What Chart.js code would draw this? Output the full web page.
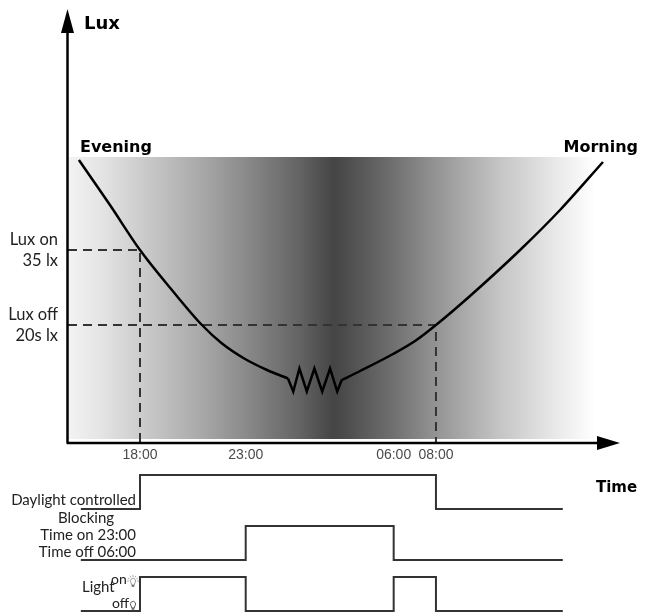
<!DOCTYPE html>
<html>
<head>
<meta charset="utf-8">
<script src="https://cdn.jsdelivr.net/npm/chart.js@4/dist/chart.umd.min.js"></script>
<style>
  html, body { margin: 0; padding: 0; background: #fff; }
  #wrap { position: relative; width: 654px; height: 614px; }
  #luxChart { position: absolute; left: 0; top: 0; }
  #signalChart { position: absolute; left: 0; top: 470px; }
</style>
</head>
<body>
<div id="wrap">
  <canvas id="luxChart" width="654" height="470"></canvas>
  <canvas id="signalChart" width="654" height="144"></canvas>
</div>
<script>
// Hours are counted on from the first evening, so 06:00 next morning = 30
const tickHours = [18, 23, 30, 32];
const tickLabels = ['18:00', '23:00', '06:00', '08:00'];

const luxOn = 35;
const luxOff = 20;
const onHour = 18;
const offHour = 32;

// daylight level (lx) through the night
const eveningHours = [15.11, 16.58, 18, 19.51, 20.93, 21.88, 22.97, 24.01, 25.0];
const eveningLux = [53, 44, 35, 27, 20, 16.3, 13.2, 11, 9.3];
const flickerHours = [25.0, 25.25, 25.54, 25.89, 26.25, 26.62, 26.99, 27.33, 27.54];
const flickerLux = [9.3, 6.7, 11.3, 6.7, 11.3, 6.7, 11.3, 6.7, 9];
const morningHours = [27.54, 28.41, 29.97, 31.01, 32, 33.61, 35.98, 37.87, 39.9];
const morningLux = [9, 10.8, 14.2, 16.8, 20, 25.8, 35, 43, 52.6];

// switching signals (0 = off, 1 = on)
const daylightHours = [15.2, 18, 32, 38];
const daylightState = [0, 1, 0, 0];
const blockingHours = [15.2, 23, 30, 38];
const blockingState = [0, 1, 0, 0];
const lightHours = [15.2, 18, 23, 30, 32, 38];
const lightState = [0, 1, 0, 1, 0, 0];

const X_MIN = 14.594;
const X_MAX = 40.706;
const Y_MIN = -3.6;
const Y_MAX = 83.2;

const futura = 'Lato, "Noto Sans", sans-serif';
const heavy = '"DejaVu Sans", sans-serif';
const pts = (xs, ys) => xs.map((x, i) => ({ x: x, y: ys[i] }));

function curve(data, smooth) {
  return {
    data: data,
    borderColor: '#000',
    borderWidth: 2.5,
    pointRadius: 0,
    cubicInterpolationMode: smooth ? 'monotone' : 'default',
    tension: 0,
    fill: false
  };
}

function guide(data) {
  return {
    data: data,
    borderColor: '#333',
    borderWidth: 2,
    borderDash: [9, 6],
    pointRadius: 0,
    tension: 0,
    fill: false
  };
}

// grey night band behind the curve plus the arrow axes and titles
const luxDecor = {
  id: 'luxDecor',
  beforeDatasetsDraw(chart) {
    const { ctx, chartArea: a } = chart;
    const g = ctx.createLinearGradient(a.left, 0, a.right, 0);
    g.addColorStop(0.00, '#f3f3f3');
    g.addColorStop(0.06, '#e4e4e4');
    g.addColorStop(0.13, '#cdcdcd');
    g.addColorStop(0.24, '#a9a9a9');
    g.addColorStop(0.32, '#8b8b8b');
    g.addColorStop(0.42, '#636363');
    g.addColorStop(0.48, '#454545');
    g.addColorStop(0.50, '#4b4b4b');
    g.addColorStop(0.59, '#707070');
    g.addColorStop(0.67, '#959595');
    g.addColorStop(0.78, '#c4c4c4');
    g.addColorStop(0.89, '#ebebeb');
    g.addColorStop(0.955, '#ffffff');
    g.addColorStop(1.00, '#ffffff');
    ctx.save();
    ctx.fillStyle = g;
    ctx.fillRect(a.left + 1, a.top + 148, a.right - a.left - 1, a.bottom - a.top - 152);
    ctx.restore();
  },
  afterDraw(chart) {
    const { ctx, chartArea: a } = chart;
    ctx.save();
    ctx.strokeStyle = '#000';
    ctx.fillStyle = '#000';
    ctx.lineWidth = 2.5;
    ctx.beginPath();
    ctx.moveTo(a.left - 0.5, a.bottom);
    ctx.lineTo(a.left - 0.5, a.top + 20);
    ctx.moveTo(a.left - 1.5, a.bottom);
    ctx.lineTo(a.right - 20, a.bottom);
    ctx.stroke();
    // arrow heads
    ctx.beginPath();
    ctx.moveTo(a.left - 0.5, a.top);
    ctx.lineTo(a.left - 7, a.top + 24);
    ctx.lineTo(a.left + 6, a.top + 24);
    ctx.closePath();
    ctx.fill();
    ctx.beginPath();
    ctx.moveTo(a.right, a.bottom);
    ctx.lineTo(a.right - 23, a.bottom - 7);
    ctx.lineTo(a.right - 23, a.bottom + 7);
    ctx.closePath();
    ctx.fill();

    ctx.textBaseline = 'alphabetic';
    ctx.textAlign = 'left';
    ctx.font = 'bold 18px ' + heavy;
    ctx.fillText('Lux', a.left + 16, 29);
    ctx.font = 'bold 16px ' + heavy;
    ctx.fillText('Evening', 80, 152);
    ctx.textAlign = 'right';
    ctx.fillText('Morning', 638, 152);
    ctx.restore();
  }
};

new Chart(document.getElementById('luxChart'), {
  type: 'line',
  data: {
    datasets: [
      curve(pts(eveningHours, eveningLux), true),
      curve(pts(flickerHours, flickerLux), false),
      curve(pts(morningHours, morningLux), true),
      guide([{ x: X_MIN, y: luxOn }, { x: onHour, y: luxOn }, { x: onHour, y: Y_MIN }]),
      guide([{ x: X_MIN, y: luxOff }, { x: offHour, y: luxOff }, { x: offHour, y: Y_MIN }])
    ]
  },
  options: {
    responsive: false,
    animation: false,
    layout: { padding: { left: 0, right: 34, top: 9, bottom: 0 } },
    plugins: { legend: { display: false }, tooltip: { enabled: false } },
    scales: {
      x: {
        type: 'linear',
        min: X_MIN,
        max: X_MAX,
        grid: { display: false, drawTicks: false },
        border: { display: false },
        afterBuildTicks: (scale) => { scale.ticks = tickHours.map(v => ({ value: v })); },
        afterFit: (scale) => {
          scale.height = 27;
          scale.paddingLeft = 0;
          scale.paddingRight = 0;
        },
        ticks: {
          autoSkip: false,
          maxRotation: 0,
          padding: 4,
          color: '#4a4a4a',
          font: { family: 'Liberation Sans, Arial, sans-serif', size: 14 },
          callback: (v) => tickLabels[tickHours.indexOf(v)]
        }
      },
      y: {
        min: Y_MIN,
        max: Y_MAX,
        grid: { display: false, drawTicks: false },
        border: { display: false },
        afterBuildTicks: (scale) => { scale.ticks = [luxOn, luxOff].map(v => ({ value: v })); },
        afterFit: (scale) => {
          scale.width = 68;
          scale.paddingTop = 0;
          scale.paddingBottom = 0;
        },
        ticks: {
          padding: 10,
          color: '#222',
          font: { family: futura, size: 16.5, lineHeight: 1.3 },
          callback: (v) => v === luxOn ? ['Lux on', luxOn + ' lx'] : ['Lux off', luxOff + 's lx']
        }
      }
    }
  },
  plugins: [luxDecor]
});

// stacked rows of the switching diagram: row base value in the y scale
const rows = [
  { hours: daylightHours, state: daylightState, base: 3 },
  { hours: blockingHours, state: blockingState, base: 1.5 },
  { hours: lightHours, state: lightState, base: 0 }
];

function bulb(ctx, cx, cy, lit) {
  ctx.save();
  ctx.lineWidth = 1;
  ctx.strokeStyle = lit ? '#999' : '#555';
  ctx.beginPath();
  ctx.arc(cx, cy, 2.6, Math.PI * 0.8, Math.PI * 2.2);
  ctx.lineTo(cx + 1.2, cy + 4);
  ctx.lineTo(cx - 1.2, cy + 4);
  ctx.closePath();
  ctx.stroke();
  ctx.fillStyle = '#666';
  ctx.fillRect(cx - 1.3, cy + 4, 2.6, 1.8);
  if (lit) {
    ctx.strokeStyle = '#aaa';
    for (let k = 0; k < 7; k++) {
      const ang = Math.PI * (1 + k / 6);
      ctx.beginPath();
      ctx.moveTo(cx + Math.cos(ang) * 4, cy + Math.sin(ang) * 4);
      ctx.lineTo(cx + Math.cos(ang) * 6, cy + Math.sin(ang) * 6);
      ctx.stroke();
    }
  }
  ctx.restore();
}

const signalText = {
  id: 'signalText',
  afterDraw(chart) {
    const { ctx } = chart;
    const y = chart.scales.y;
    ctx.save();
    ctx.fillStyle = '#222';
    ctx.font = '15px ' + futura;
    ctx.textBaseline = 'alphabetic';
    ctx.textAlign = 'right';
    ctx.fillText('Daylight controlled', 136, y.getPixelForValue(3) - 4);
    const b = y.getPixelForValue(1.5);
    ctx.fillText('Time on 23:00', 136, b - 20);
    ctx.fillText('Time off 06:00', 136, b - 3);
    ctx.textAlign = 'center';
    ctx.fillText('Blocking', 86, b - 37);
    const l = y.getPixelForValue(0);
    ctx.textAlign = 'left';
    ctx.fillText('Light', 82, l - 19);
    ctx.font = '14px ' + futura;
    ctx.fillText('on', 111, l - 27);
    ctx.fillText('off', 112, l - 3);
    bulb(ctx, 133, l - 30, true);
    bulb(ctx, 133, l - 7, false);
    ctx.fillStyle = '#000';
    ctx.font = 'bold 15px ' + heavy;
    ctx.fillText('Time', 596, 22);
    ctx.restore();
  }
};

new Chart(document.getElementById('signalChart'), {
  type: 'line',
  data: {
    datasets: rows.map(r => ({
      data: r.hours.map((h, i) => ({ x: h, y: r.base + r.state[i] })),
      stepped: 'before',
      borderColor: '#333',
      borderWidth: 2,
      pointRadius: 0,
      fill: false
    }))
  },
  options: {
    responsive: false,
    animation: false,
    layout: { padding: { left: 68, right: 34, top: 2, bottom: 0 } },
    plugins: { legend: { display: false }, tooltip: { enabled: false } },
    scales: {
      x: { type: 'linear', min: X_MIN, max: X_MAX, display: false },
      y: { min: -3 / 34, max: 4 + 3 / 34, display: false }
    }
  },
  plugins: [signalText]
});
</script>
</body>
</html>
